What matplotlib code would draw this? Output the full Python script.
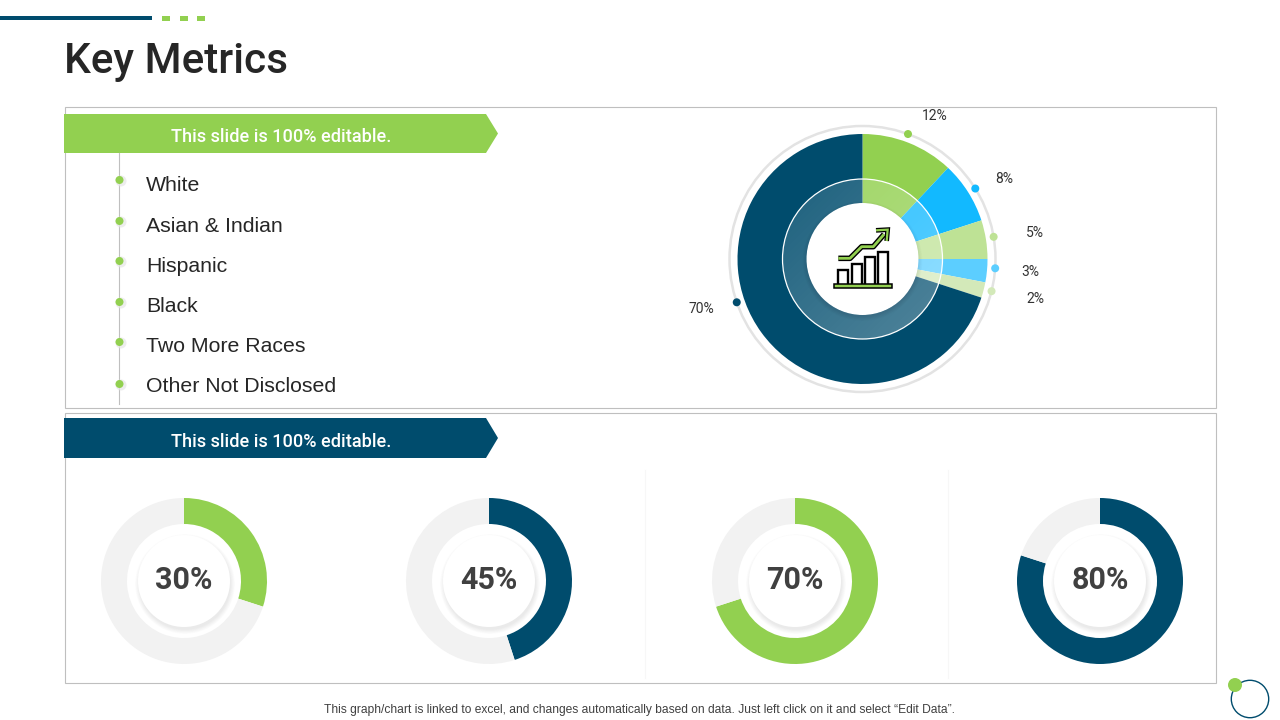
import numpy as np
import matplotlib
matplotlib.use("Agg")
import matplotlib.pyplot as plt
from matplotlib.patches import Circle, Rectangle, Polygon, Wedge

# ---- data ----
title = "Key Metrics"
banner_text = "This slide is 100% editable."
categories = ["White", "Asian & Indian", "Hispanic", "Black", "Two More Races", "Other Not Disclosed"]
share_values = [12, 8, 5, 3, 2, 70]
share_labels = ["12%", "8%", "5%", "3%", "2%", "70%"]
gauge_values = [30, 45, 70, 80]
gauge_labels = ["30%", "45%", "70%", "80%"]
footer = "This graph/chart is linked to excel, and changes automatically based on data. Just left click on it and select \u201cEdit Data\u201d."

# ---- style ----
GREEN, NAVY = "#92D050", "#004C6D"
share_colors = [GREEN, "#12B9FF", "#BEE295", "#5CCEFF", "#D3E9B9", NAVY]
gauge_colors = [GREEN, NAVY, GREEN, NAVY]
gauge_centers = [184, 489, 795, 1100]
dot_angles = [20, 58, 80.4, 94, 104, 251]
label_pos = [(935, 116), (1004, 179), (1035, 233), (1030, 272), (1035, 299), (701, 309)]
item_y = [185.5, 226.5, 266.5, 306.5, 346.5, 386.5]
bullet_y = [180, 221, 261, 302, 342, 384]
HEAD = "Roboto"
BODY = "Liberation Sans"

fig = plt.figure(figsize=(12.8, 7.2), dpi=100)
ax = fig.add_axes([0, 0, 1, 1])


def soft_shadow(cx, cy, r, dy=3, steps=7, alpha=0.012, z=3):
    for i in range(steps):
        ax.add_patch(Circle((cx, cy + dy), r + steps * 0.7 - i * 0.7, fc="#000000", ec="none",
                            alpha=alpha, zorder=z))


# top decoration
ax.add_patch(Rectangle((0, 16), 152, 4, fc=NAVY, ec="none"))
for x in (162, 180, 197):
    ax.add_patch(Rectangle((x, 16), 8, 5, fc=GREEN, ec="none"))
ax.text(64, 61, title, family=HEAD, weight="medium", fontsize=30.4, color="#262626", va="center", ha="left")

# panels
ax.add_patch(Rectangle((65, 107), 1151, 300.5, fc="white", ec="#BFBFBF", lw=0.8, zorder=1))
ax.add_patch(Rectangle((65, 413), 1151, 269.5, fc="white", ec="#BFBFBF", lw=0.8, zorder=1))
for x in (645, 947.5):
    ax.plot([x, x], [470, 678], color="#F7F7F7", lw=0.8, zorder=1)

# banners
for top, bot, col in ((114, 153, GREEN), (418, 458, NAVY)):
    mid = (top + bot) / 2
    ax.add_patch(Polygon([(64, top), (486, top), (498, mid), (486, bot), (64, bot)], fc=col, ec="none", zorder=2))
    ax.text(281, mid + 4, banner_text, family=HEAD, weight="medium", fontsize=13.1, color="white",
            ha="center", va="center", zorder=3)

# list
ax.plot([119, 119], [153, 404], color="#BFBFBF", lw=0.8, zorder=2)
for name, ty, by in zip(categories, item_y, bullet_y):
    ax.add_patch(Circle((121, by + 1), 5.5, fc="#E6E6E6", ec="none", alpha=0.7, zorder=2))
    ax.add_patch(Circle((119.5, by), 4, fc=GREEN, ec="none", zorder=3))
    ax.text(146, ty, name, family=BODY, fontsize=15.35, color="#262626", va="center", ha="left", zorder=3)

# share donut
cx, cy = 862.5, 259
R, R_in, R_hole, R_ring = 125, 80, 56, 133
ax.add_patch(Circle((cx, cy), R_ring, fc="none", ec="#E3E3E3", lw=1.8, zorder=2))
ax.pie(share_values, colors=share_colors, center=(cx, cy), radius=R, startangle=-90, frame=True,
       wedgeprops=dict(linewidth=0, zorder=3))
u, v = np.meshgrid(np.linspace(0, 1, 64), np.linspace(0, 1, 64))
grad = np.ones((64, 64, 4))
grad[..., 3] = 0.12 + 0.2 * (u + v) / 2
img = ax.imshow(grad, extent=(cx - R_in, cx + R_in, cy + R_in, cy - R_in), origin="upper", zorder=4,
                interpolation="bilinear")
img.set_clip_path(Wedge((cx, cy), R_in, 0, 360, width=R_in - R_hole, transform=ax.transData))
ax.add_patch(Circle((cx, cy), R_in, fc="none", ec="white", lw=0.9, zorder=5))
soft_shadow(cx, cy, R_hole - 1, dy=2, z=4)
ax.add_patch(Circle((cx, cy), R_hole, fc="white", ec="none", zorder=5))
for ang, col, lab, (lx, ly) in zip(dot_angles, share_colors, share_labels, label_pos):
    a = np.radians(ang)
    ax.add_patch(Circle((cx + R_ring * np.sin(a), cy - R_ring * np.cos(a)), 4, fc=col, ec="none", zorder=6))
    ax.text(lx, ly, lab, family=HEAD, weight="normal", fontsize=10, color="#333333", ha="center", va="center", zorder=6)

# centre icon (decoration)
ox, oy = 820, 215
def ic(x, y):
    return ox + x / 3, oy + y / 3
for x0, x1, y0 in ((55, 85, 165), (95, 125, 148), (135, 165, 127), (175, 205, 112)):
    xs, ys = zip(*[ic(x0, 207), ic(x0, y0), ic(x1, y0), ic(x1, 207)])
    ax.plot(xs, ys, color="black", lw=1.7, zorder=7, solid_joinstyle="miter")
bx0, by0 = ic(42, 208)
bx1, by1 = ic(217, 218)
ax.add_patch(Rectangle((bx0, by0), bx1 - bx0, by1 - by0, fc=GREEN, ec="black", lw=1.1, zorder=7))
xs, ys = zip(*[ic(55, 130), ic(90, 130), ic(125, 95), ic(160, 95), ic(192, 58)])
ax.plot(xs, ys, color="black", lw=4, zorder=7, solid_capstyle="butt")
ax.plot(xs, ys, color=GREEN, lw=2, zorder=8, solid_capstyle="butt")
head = [ic(168, 46), ic(203, 44), ic(200, 78)]
ax.add_patch(Polygon(head, closed=False, fc="none", ec="black", lw=3.4, zorder=7))
ax.add_patch(Polygon(head, closed=False, fc="none", ec=GREEN, lw=1.6, zorder=8))

# gauges
gy, gR, gIn, gDisk = 581, 83, 57, 46
for gx, val, col, lab in zip(gauge_centers, gauge_values, gauge_colors, gauge_labels):
    ax.pie([val, 100 - val], colors=[col, "#F2F2F2"], center=(gx, gy), radius=gR, startangle=-90, frame=True,
           wedgeprops=dict(width=gR - gIn, linewidth=0, zorder=3))
    soft_shadow(gx + 1, gy, gDisk - 1, dy=3, z=3)
    ax.add_patch(Circle((gx, gy), gDisk, fc="white", ec="none", zorder=4))
    ax.text(gx, gy - 1, lab, family=HEAD, weight="bold", fontsize=22, color="#404040", ha="center", va="center", zorder=5)

# footer + corner
ax.text(639.5, 709.5, footer, family=BODY, fontsize=8.63, color="#404040", ha="center", va="center")
ax.add_patch(Circle((1250, 699), 18.7, fc="white", ec=NAVY, lw=1.0, zorder=2))
ax.add_patch(Circle((1235, 685), 7, fc=GREEN, ec="none", zorder=3))

ax.set_xlim(0, 1280)
ax.set_ylim(720, 0)
ax.set_aspect("auto")
ax.axis("off")
fig.savefig("out.png", dpi=100)
